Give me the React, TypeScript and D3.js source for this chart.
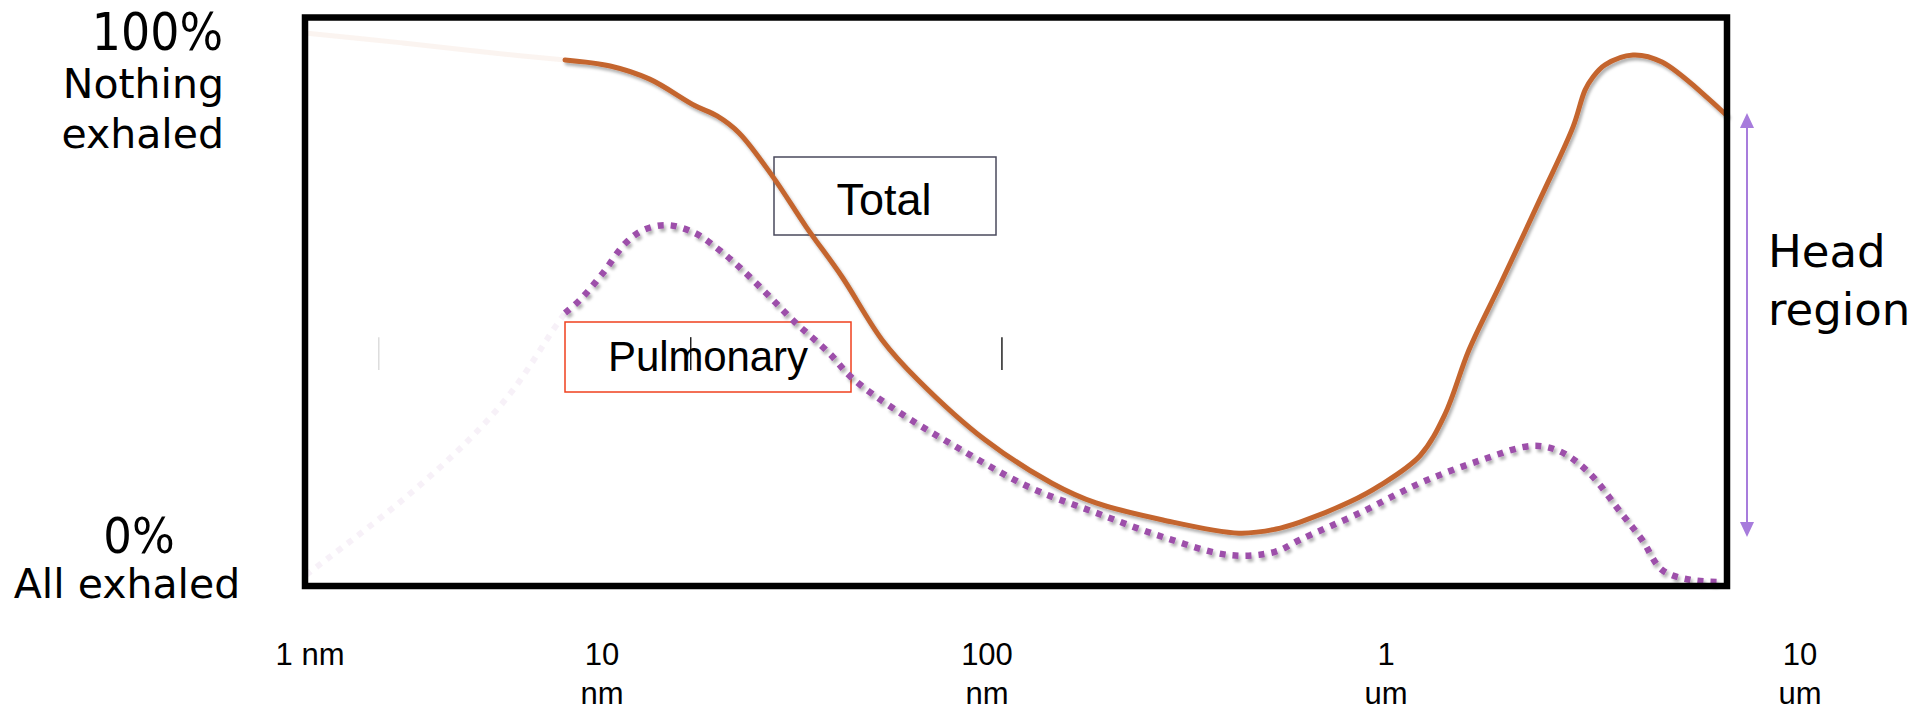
import React from "react";
import * as d3 from "d3";

// particle size ticks (nm) and their labels
const tickSizes = [1, 10, 100, 1000, 10000];
const tickLabels = [["1 nm"], ["10", "nm"], ["100", "nm"], ["1", "um"], ["10", "um"]];

// Total deposition curve (size in nm, % retained)
const totalFadedSize = [0.96, 2.07, 4.17, 7.47];
const totalFadedPct = [100, 98.2, 96.4, 95.1];
const totalSize = [
  7.47, 10.5, 13.3, 17.4, 19.9, 22.7, 27.8, 33.9, 42.0, 53.4, 66.2, 98.8, 145.5, 187.6, 276,
  428, 527, 609, 812, 966, 1208, 1389, 1587, 1896, 2368, 2830, 3025, 3162, 3381, 3950, 4642, 6627,
];
const totalPct = [
  95.1, 94.0, 91.6, 86.8, 84.9, 81.8, 73.8, 64.7, 55.6, 44.1, 36.8, 25.9, 18.0, 14.4, 11.3,
  8.9, 9.6, 10.9, 14.6, 17.6, 23.0, 30.6, 42.3, 54.5, 70.1, 82.9, 89.6, 92.0, 94.2, 96.0, 94.7, 85.1,
];

// Pulmonary deposition curve
const pulmFadedSize = [0.97, 2.07, 3.5, 4.96, 6.8, 7.47];
const pulmFadedPct = [1.3, 14.9, 25.9, 35.0, 45.9, 49.0];
const pulmSize = [
  7.47, 8.41, 10.06, 11.5, 12.8, 14.8, 17.4, 19.9, 22.7, 26.7, 31.3, 38.9, 44.4, 58.0, 86.1, 127.4,
  187.6, 276, 406, 527, 609, 861, 1208, 1697, 2265, 2647, 3093, 3695, 4153, 4642, 5424, 6481,
];
const pulmPct = [
  49.0, 51.4, 56.3, 61.7, 64.1, 65.0, 63.6, 60.8, 57.4, 52.6, 47.7, 41.7, 37.3, 31.3, 24.0, 17.3,
  12.6, 8.2, 4.9, 5.5, 7.7, 12.6, 18.0, 22.2, 24.8, 23.7, 19.9, 12.6, 7.7, 2.2, 0.4, 0,
];

// small stray tick marks inside the plot
const strayTicks = [1.72, 17.0, 109];
const strayColors = ["#dddddd", "#222222", "#222222"];
const strayRange = [38.6, 44.6];

const W = 1930;
const H = 710;
const frame = { left: 305, right: 1727, top: 17.5, bottom: 586 };

const ORANGE = "#C4652F";
const PURPLE = "#9D50AA";
const ARIAL = "'Liberation Sans', Arial, sans-serif";
const DEJAVU = "'DejaVu Sans', Verdana, sans-serif";
const DEJAVU_C = "'DejaVu Sans Condensed', 'DejaVu Sans', sans-serif";

const zip = (xs: number[], ys: number[]) => xs.map((x, i) => [x, ys[i]] as [number, number]);

export default function App() {
  const x = d3.scaleLog().domain(tickSizes).range([310, 602, 987, 1386, 1800]);
  const y = d3.scaleLinear().domain([0, 100]).range([582, 33]);

  const line = d3
    .line<[number, number]>()
    .x((d) => x(d[0]))
    .y((d) => y(d[1]))
    .curve(d3.curveCatmullRom.alpha(0.5));

  const arrowX = 1747;

  return (
    <div style={{ position: "absolute", left: 0, top: 0 }}>
      <svg width={W} height={H} style={{ display: "block", background: "#fff" }}>
        <defs>
          <filter id="shadow" x="-5%" y="-5%" width="110%" height="120%">
            <feDropShadow dx="2" dy="3" stdDeviation="1.6" floodColor="#000" floodOpacity="0.3" />
          </filter>
        </defs>

        {/* left labels */}
        <g fill="#000">
          <text x={223} y={50} textAnchor="end" fontFamily={DEJAVU_C} fontStretch="condensed" fontSize={51}>
            100%
          </text>
          <text x={224} y={98} textAnchor="end" fontFamily={DEJAVU} fontSize={41}>
            Nothing
          </text>
          <text x={224} y={148} textAnchor="end" fontFamily={DEJAVU} fontSize={41}>
            exhaled
          </text>
          <text x={139} y={553} textAnchor="middle" fontFamily={DEJAVU_C} fontStretch="condensed" fontSize={50}>
            0%
          </text>
          <text x={127} y={598} textAnchor="middle" fontFamily={DEJAVU} fontSize={41}>
            All exhaled
          </text>
        </g>

        {/* stray tick marks */}
        {strayTicks.map((t, i) => (
          <line
            key={i}
            x1={x(t)}
            x2={x(t)}
            y1={y(strayRange[0])}
            y2={y(strayRange[1])}
            stroke={strayColors[i]}
            strokeWidth={1.5}
          />
        ))}

        {/* boxes */}
        <rect x={774} y={157} width={222} height={78} fill="none" stroke="#4A4A5C" strokeWidth={1.5} />
        <text x={884} y={215} textAnchor="middle" fontFamily={ARIAL} fontSize={45}>
          Total
        </text>
        <rect x={565} y={322} width={286} height={70} fill="none" stroke="#F0401E" strokeWidth={1.5} />
        <text x={608} y={371} fontFamily={ARIAL} fontSize={42} textLength={200}>
          Pulmonary
        </text>

        {/* faded lead-in segments */}
        <path d={line(zip(totalFadedSize, totalFadedPct)) || ""} fill="none" stroke={ORANGE} strokeOpacity={0.07} strokeWidth={5} />
        <path
          d={line(zip(pulmFadedSize, pulmFadedPct)) || ""}
          fill="none"
          stroke={PURPLE}
          strokeOpacity={0.08}
          strokeWidth={6}
          strokeDasharray="6 7"
        />

        {/* curves */}
        <path
          d={line(zip(pulmSize, pulmPct)) || ""}
          fill="none"
          stroke={PURPLE}
          strokeWidth={6.5}
          strokeDasharray="6 7"
          filter="url(#shadow)"
        />
        <path
          d={line(zip(totalSize, totalPct)) || ""}
          fill="none"
          stroke={ORANGE}
          strokeWidth={5}
          strokeLinecap="round"
          filter="url(#shadow)"
        />

        {/* frame */}
        <rect
          x={frame.left}
          y={frame.top}
          width={frame.right - frame.left}
          height={frame.bottom - frame.top}
          fill="none"
          stroke="#000"
          strokeWidth={6.5}
        />

        {/* head region arrow */}
        <line x1={arrowX} x2={arrowX} y1={125} y2={525} stroke="#A77CDC" strokeWidth={2} />
        <path d={`M${arrowX},113 L${arrowX - 7},128 L${arrowX + 7},128 Z`} fill="#A77CDC" />
        <path d={`M${arrowX},537 L${arrowX - 7},522 L${arrowX + 7},522 Z`} fill="#A77CDC" />
        <text x={1768} y={267} fontFamily={DEJAVU} fontSize={45}>
          Head
        </text>
        <text x={1768} y={325} fontFamily={DEJAVU} fontSize={45}>
          region
        </text>

        {/* x tick labels */}
        {tickSizes.map((t, i) => (
          <text key={t} x={x(t)} textAnchor="middle" fontFamily={ARIAL} fontSize={31} fill="#000">
            {tickLabels[i].map((s, j) => (
              <tspan key={j} x={x(t)} y={665 + j * 39}>
                {s}
              </tspan>
            ))}
          </text>
        ))}
      </svg>
    </div>
  );
}
